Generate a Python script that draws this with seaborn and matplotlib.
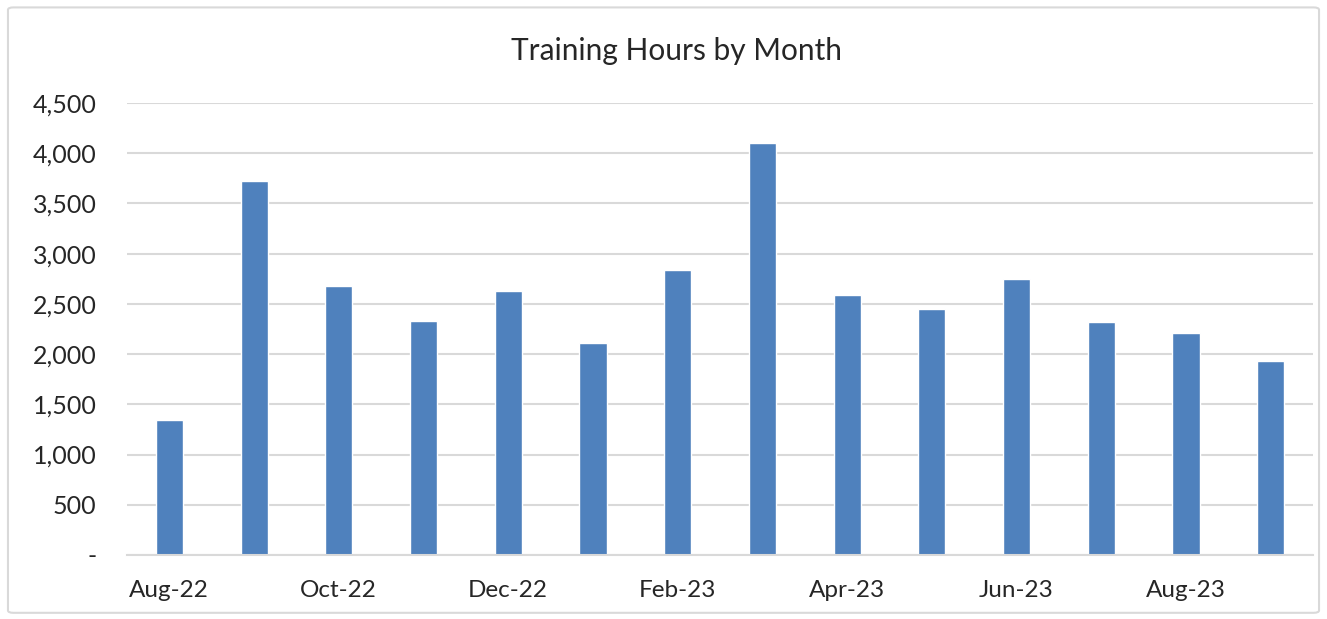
import pandas as pd
import seaborn as sns
import matplotlib.pyplot as plt
from matplotlib.patches import FancyBboxPatch
from matplotlib.ticker import FuncFormatter

months = ["Aug-22", "Sep-22", "Oct-22", "Nov-22", "Dec-22", "Jan-23", "Feb-23",
          "Mar-23", "Apr-23", "May-23", "Jun-23", "Jul-23", "Aug-23", "Sep-23"]
hours = [1340, 3720, 2675, 2325, 2625, 2115, 2840,
         4105, 2585, 2445, 2745, 2315, 2210, 1935]
yticks = [0, 500, 1000, 1500, 2000, 2500, 3000, 3500, 4000, 4500]

df = pd.DataFrame({"month": months, "hours": hours})

sns.set_style("white")
plt.rcParams["font.family"] = ["Lato", "DejaVu Sans"]

fig = plt.figure(figsize=(13.27, 6.19), dpi=100)
ax = fig.add_axes([0.0957, 0.1034, 0.8938, 0.7302])

sns.barplot(data=df, x="month", y="hours", color="#4F81BD", saturation=1,
            width=0.32, ax=ax)

ax.set_xlim(-0.5, len(months) - 0.5)
ax.set_ylim(0, 4500)
ax.set_yticks(yticks)
ax.yaxis.set_major_formatter(FuncFormatter(lambda v, p: "-" if v == 0 else f"{v:,.0f}"))
ax.grid(axis="y", color="#D9D9D9", linewidth=1.5)
ax.set_axisbelow(True)

# labels on every other month, tick marks on category boundaries
ax.set_xticks(range(0, len(months), 2))
ax.set_xticklabels(months[::2])
ax.set_xticks([i - 0.5 for i in range(0, len(months) + 1, 2)], minor=True)
ax.tick_params(axis="x", which="major", length=0, pad=18, labelsize=17.5)
ax.tick_params(axis="x", which="minor", length=7, width=1.5, color="#D9D9D9", direction="out")
ax.tick_params(axis="y", length=0, pad=22, labelsize=18)

for s in ["top", "right", "left"]:
    ax.spines[s].set_visible(False)
ax.spines["bottom"].set_color("#D9D9D9")
ax.spines["bottom"].set_linewidth(1.5)

ax.set_xlabel("")
ax.set_ylabel("")
fig.text(0.5095, 0.917, "Training Hours by Month", ha="center", va="center", fontsize=21.5)

fig.patches.append(FancyBboxPatch((0.006, 0.01), 0.988, 0.978, boxstyle="round,pad=0,rounding_size=0.004",
                                  transform=fig.transFigure, fill=False, edgecolor="#D9D9D9", linewidth=1.5))

plt.savefig("out.png", dpi=100)
